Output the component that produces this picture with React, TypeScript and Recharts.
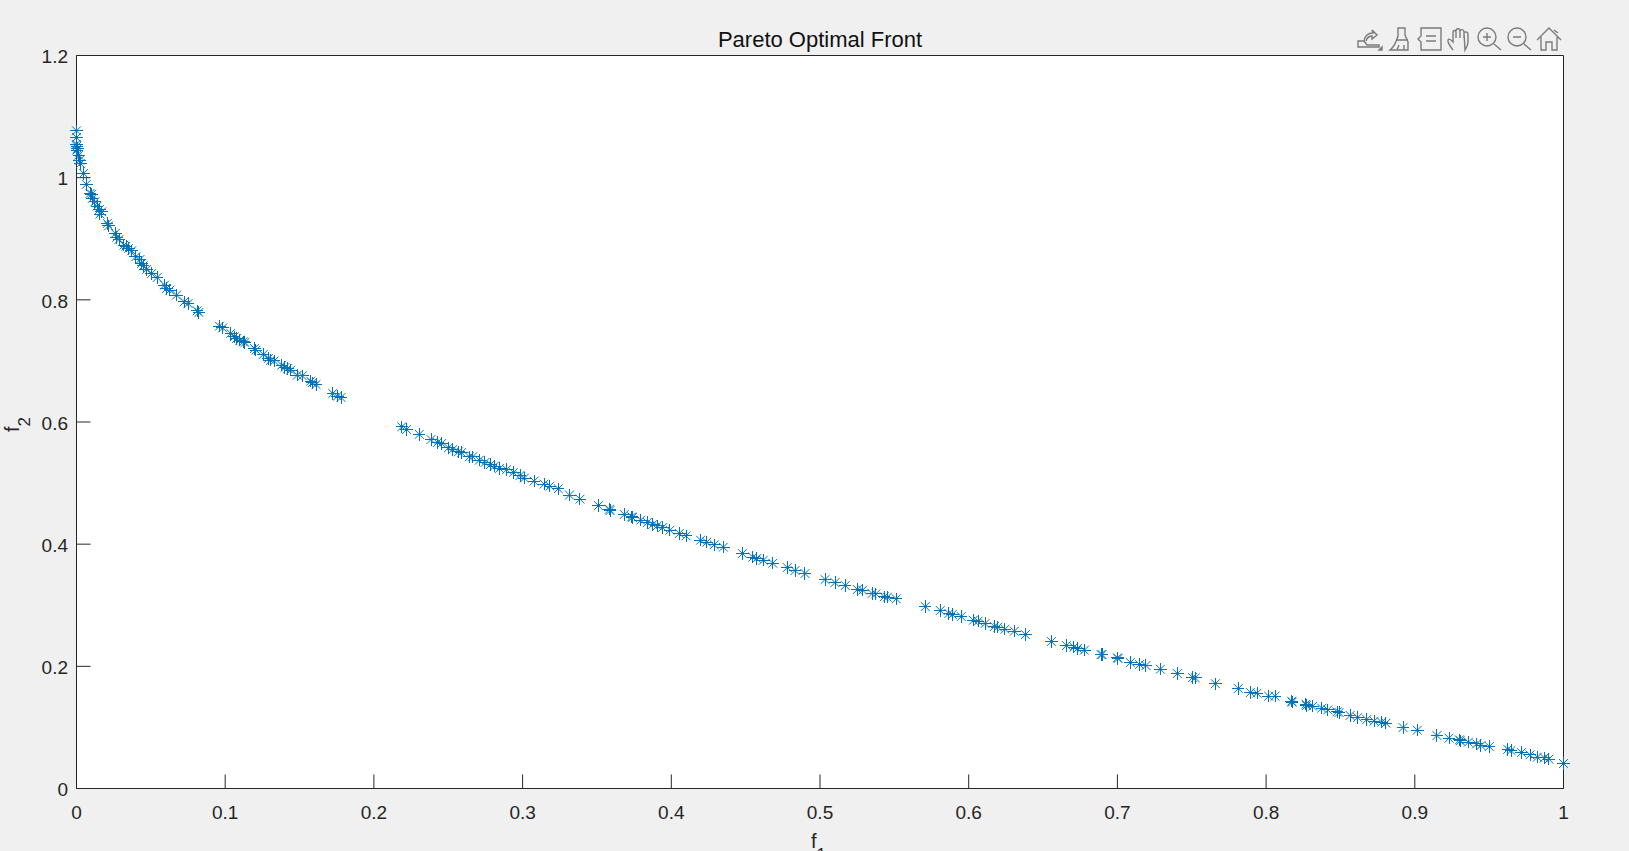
import React from 'react';
import { ScatterChart, Scatter, XAxis, YAxis, CartesianGrid } from 'recharts';

// f1 / f2, left to right
const f1Values = [
  0, 0, 0, 0.0002, 0.0006, 0.0002, 0.0015, 0.0021, 0.0026, 0.0048, 0.0066, 0.0091, 0.0102, 0.0106, 0.0124, 0.0138,
  0.0154, 0.0169, 0.0158, 0.0207, 0.0216, 0.0261, 0.027, 0.0286, 0.0319, 0.0333, 0.0351, 0.0371, 0.0398, 0.0427,
  0.0438, 0.0449, 0.0472, 0.0505, 0.0543, 0.0592, 0.0606, 0.0628, 0.0673, 0.0724, 0.0751, 0.0812, 0.0823,
  0.0961, 0.0983, 0.1037, 0.1061, 0.1077, 0.1099, 0.1122, 0.1133, 0.1196, 0.1207, 0.1256, 0.129, 0.1305, 0.133,
  0.138, 0.1402, 0.142, 0.144, 0.1485, 0.1519, 0.1575, 0.1584, 0.1611, 0.1723, 0.1754, 0.1779,
  0.2187, 0.222, 0.2305, 0.2384, 0.2427, 0.2456, 0.2501, 0.253, 0.2568, 0.259, 0.2642, 0.2664, 0.2709, 0.2747,
  0.2785, 0.281, 0.2844, 0.2893, 0.2938, 0.2983, 0.3012, 0.3077, 0.3144, 0.3184, 0.324, 0.3315, 0.3386, 0.351,
  0.3584, 0.3588, 0.3684, 0.3734, 0.3738, 0.3794, 0.3839, 0.3875, 0.3906, 0.3942, 0.3991, 0.4054, 0.4099, 0.4197,
  0.4238, 0.4289, 0.435, 0.4478, 0.4548, 0.4574, 0.4619, 0.4682, 0.478, 0.4832, 0.4899, 0.5034, 0.5101, 0.517,
  0.5251, 0.5287, 0.535, 0.5376, 0.5432, 0.5453, 0.5513, 0.5708, 0.5809, 0.5867, 0.589, 0.595, 0.6031, 0.6063,
  0.611, 0.6172, 0.6195, 0.6244, 0.6307, 0.6381, 0.6556, 0.6657, 0.6708, 0.6731, 0.6778, 0.689, 0.6897, 0.7,
  0.7004, 0.7087, 0.7148, 0.7192, 0.7289, 0.7403, 0.7506, 0.7524, 0.7659, 0.7813, 0.7894, 0.7939, 0.8017, 0.806,
  0.8172, 0.8175, 0.8268, 0.8271, 0.8313, 0.8374, 0.8415, 0.8477, 0.8491, 0.8565, 0.8616, 0.8677, 0.8726, 0.8777,
  0.8806, 0.8921, 0.9017, 0.9149, 0.923, 0.93, 0.9306, 0.936, 0.9416, 0.9445, 0.9501, 0.9625, 0.9647, 0.9717,
  0.9775, 0.9824, 0.9871, 0.9902, 1,
];

const f2Values = [
  1.0767, 1.0658, 1.0549, 1.0516, 1.0478, 1.045, 1.0369, 1.0287, 1.0232, 1.0069, 0.9889, 0.9741, 0.973, 0.9659, 0.9605, 0.9534,
  0.9479, 0.9441, 0.9403, 0.925, 0.9212, 0.9086, 0.9021, 0.8988, 0.8895, 0.8879, 0.8841, 0.8803, 0.8704, 0.8661,
  0.8595, 0.8557, 0.8497, 0.8431, 0.8366, 0.8241, 0.8186, 0.8159, 0.8077, 0.7968, 0.794, 0.782, 0.7793,
  0.7569, 0.7541, 0.7449, 0.7395, 0.7367, 0.734, 0.7313, 0.7302, 0.7203, 0.7176, 0.7105, 0.7039, 0.7012, 0.7001,
  0.6931, 0.6892, 0.6876, 0.6849, 0.6767, 0.6756, 0.6669, 0.6642, 0.6614, 0.6466, 0.6423, 0.6401,
  0.5921, 0.5877, 0.5797, 0.5713, 0.5664, 0.5648, 0.5577, 0.5549, 0.5511, 0.55, 0.543, 0.543, 0.5375, 0.5338,
  0.5305, 0.5278, 0.5239, 0.5222, 0.5174, 0.5124, 0.5082, 0.5032, 0.4983, 0.495, 0.4907, 0.4804, 0.4737, 0.4632,
  0.4572, 0.455, 0.4486, 0.4448, 0.4437, 0.4393, 0.4355, 0.4322, 0.43, 0.4273, 0.4229, 0.4175, 0.4136, 0.4065,
  0.4032, 0.3989, 0.3951, 0.3847, 0.3787, 0.3765, 0.3737, 0.3688, 0.3617, 0.3568, 0.3519, 0.3421, 0.3371, 0.3323,
  0.3258, 0.3247, 0.3192, 0.3187, 0.3138, 0.3132, 0.3105, 0.2979, 0.2914, 0.2865, 0.2849, 0.2815, 0.2755, 0.2739,
  0.2701, 0.2652, 0.2641, 0.2608, 0.2575, 0.252, 0.2406, 0.234, 0.2313, 0.2291, 0.2264, 0.2193, 0.2193, 0.2139,
  0.2128, 0.2062, 0.203, 0.2013, 0.1953, 0.1882, 0.1817, 0.1811, 0.1715, 0.1637, 0.1571, 0.156, 0.1511, 0.1511,
  0.1429, 0.1413, 0.138, 0.1358, 0.1347, 0.1315, 0.1287, 0.1255, 0.1244, 0.1195, 0.1162, 0.1129, 0.1102, 0.1086,
  0.1069, 0.0998, 0.0955, 0.0867, 0.0824, 0.0796, 0.078, 0.0758, 0.0731, 0.0704, 0.0687, 0.0641, 0.0622, 0.0589,
  0.0551, 0.0513, 0.0502, 0.048, 0.0409,
];

const xTicks = [0, 0.1, 0.2, 0.3, 0.4, 0.5, 0.6, 0.7, 0.8, 0.9, 1];
const yTicks = [0, 0.2, 0.4, 0.6, 0.8, 1, 1.2];

const points = f1Values.map((f1, i) => ({ f1, f2: f2Values[i] }));

const font = 'Arial, "Liberation Sans", sans-serif';
const ink = '#262626';
const blue = '#0072BD';

function Star({ cx, cy }: any) {
  const a = 6.2;
  const d = 4.4;
  return (
    <g stroke={blue} strokeWidth={1} fill="none">
      <path d={`M${cx - a} ${cy}H${cx + a}M${cx} ${cy - a}V${cy + a}`} shapeRendering="crispEdges" />
      <path d={`M${cx - d} ${cy - d}L${cx + d} ${cy + d}M${cx - d} ${cy + d}L${cx + d} ${cy - d}`} />
    </g>
  );
}

// figure toolbar, top right
function Toolbar() {
  const s = { fill: 'none', stroke: '#7b7b7b', strokeWidth: 1.4 };
  return (
    <svg width={1629} height={70} style={{ position: 'absolute', left: 0, top: 0 }}>
      <g {...s}>
        <path d="M1358 47V41H1364L1367 45H1379V47H1358Z" />
        <path d="M1364 41C1365 35 1369 33 1373 33L1372 30L1377 35L1372 39L1372 36C1369 36 1367 38 1366 41" />
        <path d="M1379 50L1382 47V50Z" fill="#7b7b7b" />
        <path d="M1398 28H1405V35L1408 42V50H1390C1394 47 1396 43 1398 36Z" />
        <path d="M1397 40H1408M1399 45L1397 50M1404 45V50" />
        <path d="M1421 28H1441V50H1421V42L1418 39L1421 36Z" />
        <path d="M1426 36H1436M1426 41H1436" />
        <path d="M1453 50C1450 46 1447 42 1448 40C1449 38 1451 40 1453 42V32C1453 30 1456 30 1456 32V38M1456 31C1456 28 1460 28 1460 31V38M1460 31C1461 29 1464 29 1464 32V38M1464 33C1465 31 1468 32 1468 34V42C1468 46 1466 48 1465 50Z" />
        <circle cx="1487" cy="37" r="9" />
        <path d="M1483 37H1491M1487 33V41M1494 44L1501 50" />
        <circle cx="1517" cy="37" r="9" />
        <path d="M1513 37H1521M1524 44L1531 50" />
        <path d="M1537 40L1549 28L1561 40M1541 37V50H1546V42H1552V50H1557V37M1554 30L1558 33" />
      </g>
    </svg>
  );
}

export default function App() {
  return (
    <div style={{ position: 'absolute', left: 0, top: 0, width: 1629, height: 851, overflow: 'hidden', background: '#f0f0f0' }}>
      <ScatterChart width={1629} height={851} margin={{ top: 54.5, right: 64.5, bottom: 22.5, left: 6.5 }}>
        <CartesianGrid horizontal={false} vertical={false} fill="#ffffff" xAxisId="bottom" yAxisId="left" />
        <XAxis
          xAxisId="bottom"
          dataKey="f1"
          type="number"
          domain={[0, 1]}
          ticks={xTicks}
          interval={0}
          height={40}
          tickSize={-14}
          tickMargin={31}
          stroke={ink}
          tick={{ fill: ink, fontSize: 19, fontFamily: font }}
        />
        <XAxis
          xAxisId="top"
          orientation="top"
          type="number"
          domain={[0, 1]}
          ticks={xTicks}
          interval={0}
          height={1}
          tickSize={-14}
          stroke={ink}
          tick={false}
        />
        <YAxis
          yAxisId="left"
          dataKey="f2"
          type="number"
          domain={[0, 1.2]}
          ticks={yTicks}
          interval={0}
          width={70}
          tickSize={-14}
          tickMargin={22.5}
          stroke={ink}
          tick={{ fill: ink, fontSize: 19, fontFamily: font, dy: 1 }}
        />
        <YAxis
          yAxisId="right"
          orientation="right"
          type="number"
          domain={[0, 1.2]}
          ticks={yTicks}
          interval={0}
          width={1}
          tickSize={-14}
          stroke={ink}
          tick={false}
        />
        <Scatter data={points} xAxisId="bottom" yAxisId="left" shape={Star} isAnimationActive={false} />
        <text x={820} y={46.5} textAnchor="middle" fontFamily={font} fontSize={22} fill="#111111">
          Pareto Optimal Front
        </text>
        <text x={811} y={848} fontFamily={font} fontSize={20} fill={ink}>
          f
          <tspan dy={12} fontSize={17}>1</tspan>
        </text>
        <text transform="translate(19 432) rotate(-90)" fontFamily={font} fontSize={20} fill={ink}>
          f
          <tspan dy={11} fontSize={17}>2</tspan>
        </text>
      </ScatterChart>
      <Toolbar />
    </div>
  );
}
